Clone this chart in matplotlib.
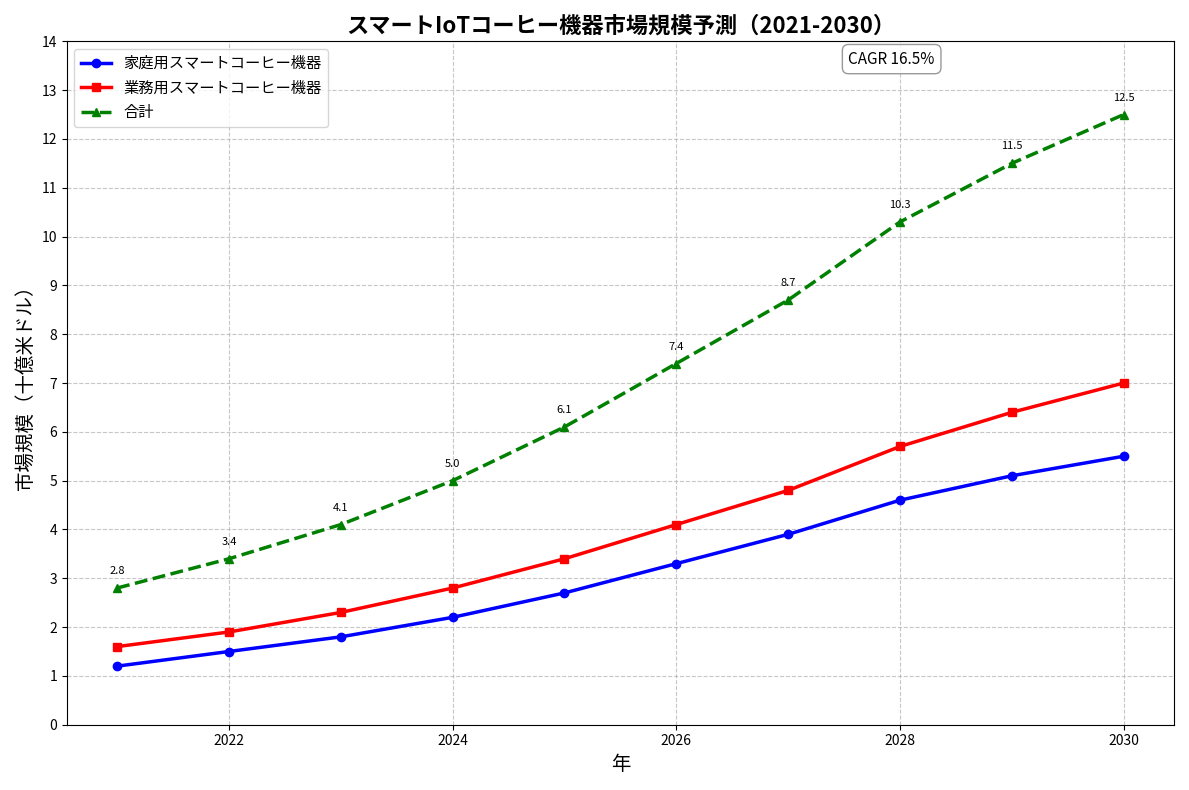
import matplotlib.pyplot as plt

plt.rcParams['font.family'] = 'Noto Sans CJK JP'

years = [2021, 2022, 2023, 2024, 2025, 2026, 2027, 2028, 2029, 2030]
home = [1.2, 1.5, 1.8, 2.2, 2.7, 3.3, 3.9, 4.6, 5.1, 5.5]
business = [1.6, 1.9, 2.3, 2.8, 3.4, 4.1, 4.8, 5.7, 6.4, 7.0]
total = [2.8, 3.4, 4.1, 5.0, 6.1, 7.4, 8.7, 10.3, 11.5, 12.5]

fig, ax = plt.subplots(figsize=(11.89, 7.9), dpi=100)

ax.plot(years, home, marker='o', color='blue', linewidth=2.5, markersize=6,
        label='家庭用スマートコーヒー機器')
ax.plot(years, business, marker='s', color='red', linewidth=2.5, markersize=6,
        label='業務用スマートコーヒー機器')
ax.plot(years, total, marker='^', color='green', linewidth=2.5, markersize=6,
        linestyle='--', label='合計')

for x, y in zip(years, total):
    ax.annotate(f'{y:.1f}', (x, y), textcoords='offset points', xytext=(0, 10),
                ha='center', fontsize=8)

ax.text(0.745, 0.974, 'CAGR 16.5%', transform=ax.transAxes, ha='center', va='center',
        fontsize=11, bbox=dict(boxstyle='round,pad=0.4', facecolor='white',
                               edgecolor='gray', alpha=0.8))

ax.set_title('スマートIoTコーヒー機器市場規模予測（2021-2030）', fontsize=16, fontweight='bold')
ax.set_xlabel('年', fontsize=14)
ax.set_ylabel('市場規模（十億米ドル）', fontsize=14)
ax.set_ylim(0, 14)
ax.set_yticks(range(0, 15))
ax.grid(True, linestyle='--', alpha=0.7)
ax.legend(loc='upper left', fontsize=11)

plt.tight_layout()
plt.savefig('out.png', dpi=100)
